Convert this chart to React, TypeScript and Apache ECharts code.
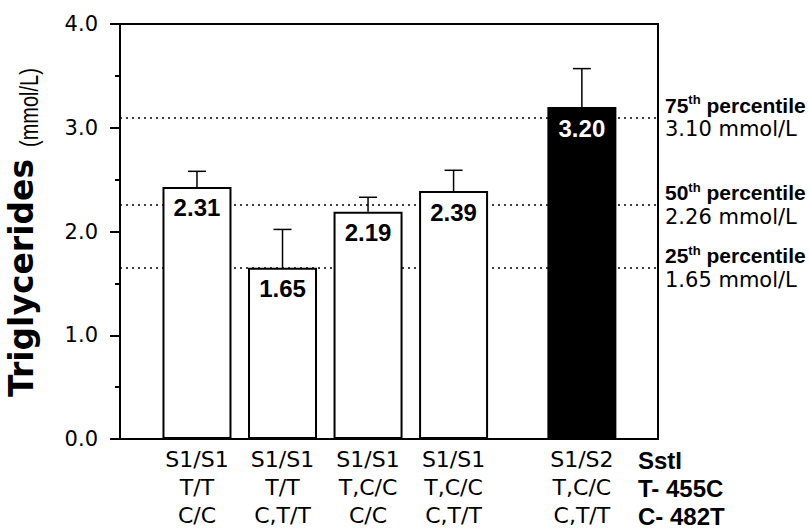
import React, { useEffect, useRef } from "react";
import * as echarts from "echarts";

// ---- data ----
const xPositions = [0, 1, 2, 3, 4.5];
const barHeights = [2.43, 1.65, 2.19, 2.39, 3.2];
const barLabels = ["2.31", "1.65", "2.19", "2.39", "3.20"];
const errorTops = [2.58, 2.02, 2.33, 2.59, 3.57];
const highlighted = [false, false, false, false, true];
const sstI = ["S1/S1", "S1/S1", "S1/S1", "S1/S1", "S1/S2"];
const t455c = ["T/T", "T/T", "T,C/C", "T,C/C", "T,C/C"];
const c482t = ["C/C", "C,T/T", "C/C", "C,T/T", "C,T/T"];
const rowHeaders = ["SstI", "T- 455C", "C- 482T"];
const percentileNames = ["75", "50", "25"];
const percentileValues = [3.1, 2.26, 1.65];
const yTicks = [0, 1, 2, 3, 4];
const yTitle = "Triglycerides";
const yUnit = "(mmol/L)";

export default function App() {
  const ref = useRef<HTMLDivElement>(null);
  useEffect(() => {
    document.body.style.margin = "0";
    const chart = echarts.init(ref.current!, null, { renderer: "svg" });
    const regular = "DejaVu Sans";
    const boldFont = "Liberation Sans";

    const option: any = {
      animation: false,
      backgroundColor: "#fff",
      grid: {
        left: 120,
        right: 151,
        top: 24,
        bottom: 90,
        show: true,
        borderColor: "#000",
        borderWidth: 2,
        backgroundColor: "transparent",
      },
      xAxis: {
        type: "value",
        min: -0.9,
        max: 5.39,
        show: false,
      },
      yAxis: {
        type: "value",
        min: yTicks[0],
        max: yTicks[yTicks.length - 1],
        interval: 1,
        axisLine: { show: true, onZero: false, lineStyle: { color: "#000", width: 2 } },
        axisTick: { show: true, length: 10, lineStyle: { color: "#000", width: 2 } },
        minorTick: { show: true, splitNumber: 2, length: 5, lineStyle: { color: "#000", width: 2 } },
        splitLine: { show: false },
        axisLabel: {
          margin: 22,
          color: "#000",
          fontFamily: regular,
          fontSize: 21,
          formatter: (v: number) => v.toFixed(1),
        },
      },
      graphic: [
        {
          type: "text",
          x: 38,
          y: 397,
          rotation: Math.PI / 2,
          style: {
            text: yTitle,
            fontFamily: regular,
            fontWeight: "bold",
            fontSize: 33,
            align: "left",
            verticalAlign: "bottom",
            fill: "#000",
          },
        },
        {
          type: "text",
          x: 42,
          y: 147,
          rotation: Math.PI / 2,
          scaleY: 1.25,
          style: {
            text: yUnit,
            fontFamily: boldFont,
            fontSize: 20,
            align: "left",
            verticalAlign: "bottom",
            fill: "#000",
          },
        },
        {
          type: "text",
          x: 638,
          y: 446,
          style: {
            text: rowHeaders.join("\n"),
            font: "bold 24px 'Liberation Sans'",
            lineHeight: 28,
            fill: "#000",
            verticalAlign: "top",
          },
        },
      ],
      series: [
        {
          type: "bar",
          z: 2,
          barWidth: 69,
          data: xPositions.map((x, i) => ({
            value: [x, barHeights[i]],
            itemStyle: {
              color: highlighted[i] ? "#000" : "#fff",
              borderColor: "#000",
              borderWidth: 2,
            },
            label: { color: highlighted[i] ? "#fff" : "#000" },
          })),
          label: {
            show: true,
            position: "insideTop",
            distance: 9,
            fontFamily: boldFont,
            fontWeight: "bold",
            fontSize: 24,
            lineHeight: 24,
            formatter: (p: any) => barLabels[p.dataIndex],
          },
          markLine: {
            z: 1,
            silent: true,
            symbol: "none",
            lineStyle: { color: "#000", width: 1.5, type: [2, 4] },
            label: {
              show: true,
              position: "end",
              distance: 7,
              align: "left",
              rich: {
                b: { fontFamily: boldFont, fontWeight: "bold", fontSize: 21, lineHeight: 24, color: "#000" },
                sup: { fontFamily: boldFont, fontWeight: "bold", fontSize: 13, lineHeight: 13, color: "#000", verticalAlign: "top" },
                r: { fontFamily: regular, fontSize: 21, lineHeight: 24, color: "#000" },
              },
            },
            data: percentileValues.map((v, i) => ({
              yAxis: v,
              label: {
                formatter: `{b|${percentileNames[i]}}{sup|th}{b| percentile}\n{r|${v.toFixed(2)} mmol/L}`,
              },
            })),
          },
        },
        {
          type: "custom",
          z: 3,
          silent: true,
          data: xPositions.map((x, i) => [x, barHeights[i], errorTops[i]]),
          renderItem: (params: any, api: any) => {
            const x = api.value(0);
            const p0 = api.coord([x, api.value(1)]);
            const p1 = api.coord([x, api.value(2)]);
            const st = { stroke: "#000", lineWidth: 1.5 };
            return {
              type: "group",
              children: [
                { type: "line", shape: { x1: p0[0], y1: p0[1], x2: p1[0], y2: p1[1] }, style: st },
                { type: "line", shape: { x1: p1[0] - 9, y1: p1[1], x2: p1[0] + 9, y2: p1[1] }, style: st },
              ],
            };
          },
        },
        {
          type: "scatter",
          z: 3,
          silent: true,
          symbolSize: 0,
          itemStyle: { color: "#000", opacity: 1 },
          data: xPositions.map((x) => [x, 0]),
          label: {
            show: true,
            position: "bottom",
            distance: 6,
            fontFamily: regular,
            fontSize: 22,
            lineHeight: 28,
            color: "#000",
            formatter: (p: any) => [sstI[p.dataIndex], t455c[p.dataIndex], c482t[p.dataIndex]].join("\n"),
          },
        },
      ],
    };
    chart.setOption(option);
    return () => chart.dispose();
  }, []);
  return <div ref={ref} style={{ width: 809, height: 529 }} />;
}
